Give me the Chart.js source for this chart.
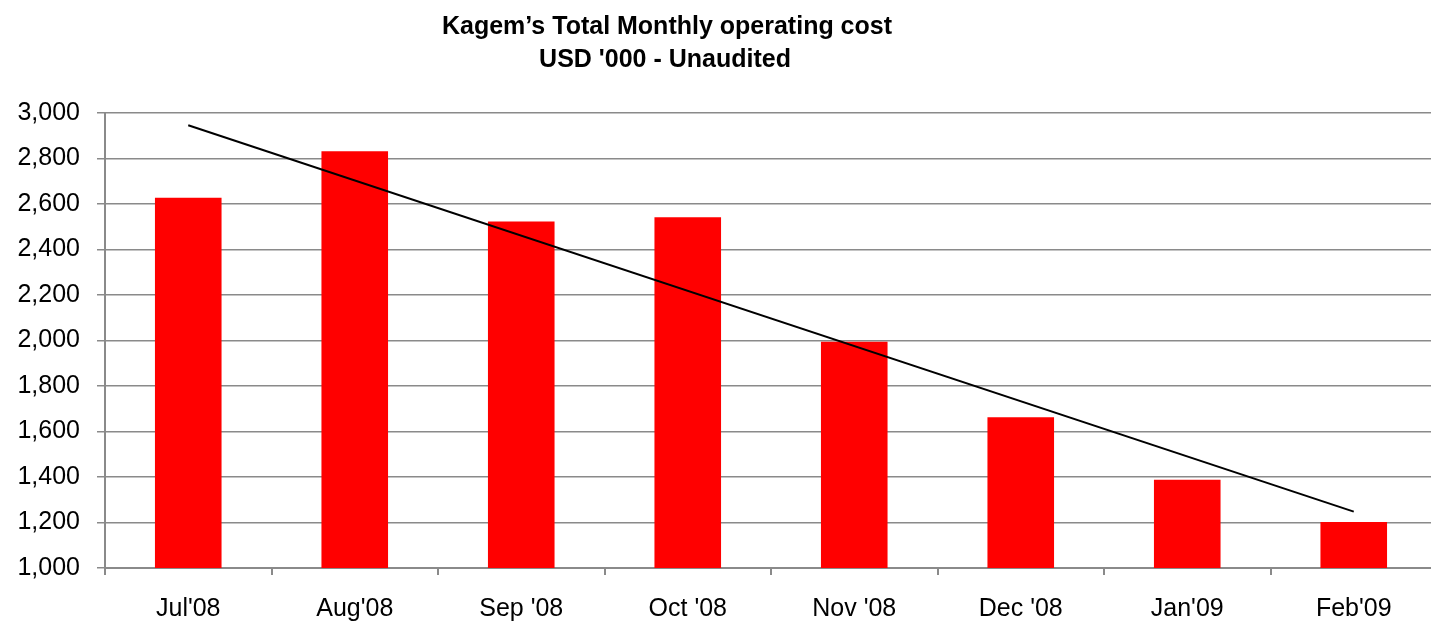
<!DOCTYPE html>
<html>
<head>
<meta charset="utf-8">
<script src="https://cdn.jsdelivr.net/npm/chart.js@4"></script>
<style>
  html, body { margin: 0; padding: 0; background: #fff; overflow: hidden; }
  #wrap { width: 1440px; height: 622px; }
</style>
</head>
<body>
<div id="wrap"><canvas id="costChart" width="1440" height="622"></canvas></div>
<script>
const months = ["Jul'08", "Aug'08", "Sep '08", "Oct '08", "Nov '08", "Dec '08", "Jan'09", "Feb'09"];
const monthlyCost = [2628, 2832, 2523, 2542, 1995, 1663, 1388, 1202];
// trend line, only its two ends are drawn
const trendCost = [2946, null, null, null, null, null, null, 1248];
const titleLines = ["Kagem\u2019s Total Monthly operating cost", "USD '000 - Unaudited"];

// title drawn by hand, the original is not centred on the canvas
const titlePlugin = {
  id: 'handTitle',
  afterDraw(chart) {
    const c = chart.ctx;
    c.save();
    c.fillStyle = '#000';
    c.font = 'bold 25px "Liberation Sans", Arial, sans-serif';
    c.textAlign = 'center';
    c.textBaseline = 'alphabetic';
    c.fillText(titleLines[0], 667, 34);
    c.fillText(titleLines[1], 665, 67);
    c.restore();
  }
};

document.addEventListener('DOMContentLoaded', function () {
  const ctx = document.getElementById('costChart').getContext('2d');
  new Chart(ctx, {
    type: 'bar',
    data: {
      labels: months,
      datasets: [{
        type: 'line',
        data: trendCost,
        borderColor: '#000',
        borderWidth: 2,
        pointRadius: 0,
        spanGaps: true,
        order: 0
      }, {
        data: monthlyCost,
        backgroundColor: '#FF0000',
        barPercentage: 0.4,
        categoryPercentage: 1,
        order: 1
      }]
    },
    options: {
      responsive: false,
      animation: false,
      layout: { padding: { top: 113, right: 3, left: 0, bottom: 0 } },
      plugins: {
        legend: { display: false },
        tooltip: { enabled: false },
        title: { display: false }
      },
      scales: {
        y: {
          min: 1000,
          max: 3000,
          afterFit: function (scale) { scale.width = 105; },
          ticks: {
            stepSize: 200,
            color: '#000',
            padding: 17,
            font: { family: '"Liberation Sans", Arial, sans-serif', size: 25 },
            callback: function (v) { return v.toLocaleString('en-US'); }
          },
          grid: { color: '#8a8a8a', lineWidth: 1.5, tickLength: 8 },
          border: { color: '#8a8a8a', width: 2 }
        },
        x: {
          afterFit: function (scale) { scale.height = 54; },
          ticks: {
            color: '#000',
            padding: 19,
            maxRotation: 0,
            font: { family: '"Liberation Sans", Arial, sans-serif', size: 25 }
          },
          grid: { offset: true, drawOnChartArea: false, color: '#8a8a8a', lineWidth: 2, tickLength: 7 },
          border: { color: '#8a8a8a', width: 2 }
        }
      }
    },
    plugins: [titlePlugin]
  });
});
</script>
</body>
</html>
